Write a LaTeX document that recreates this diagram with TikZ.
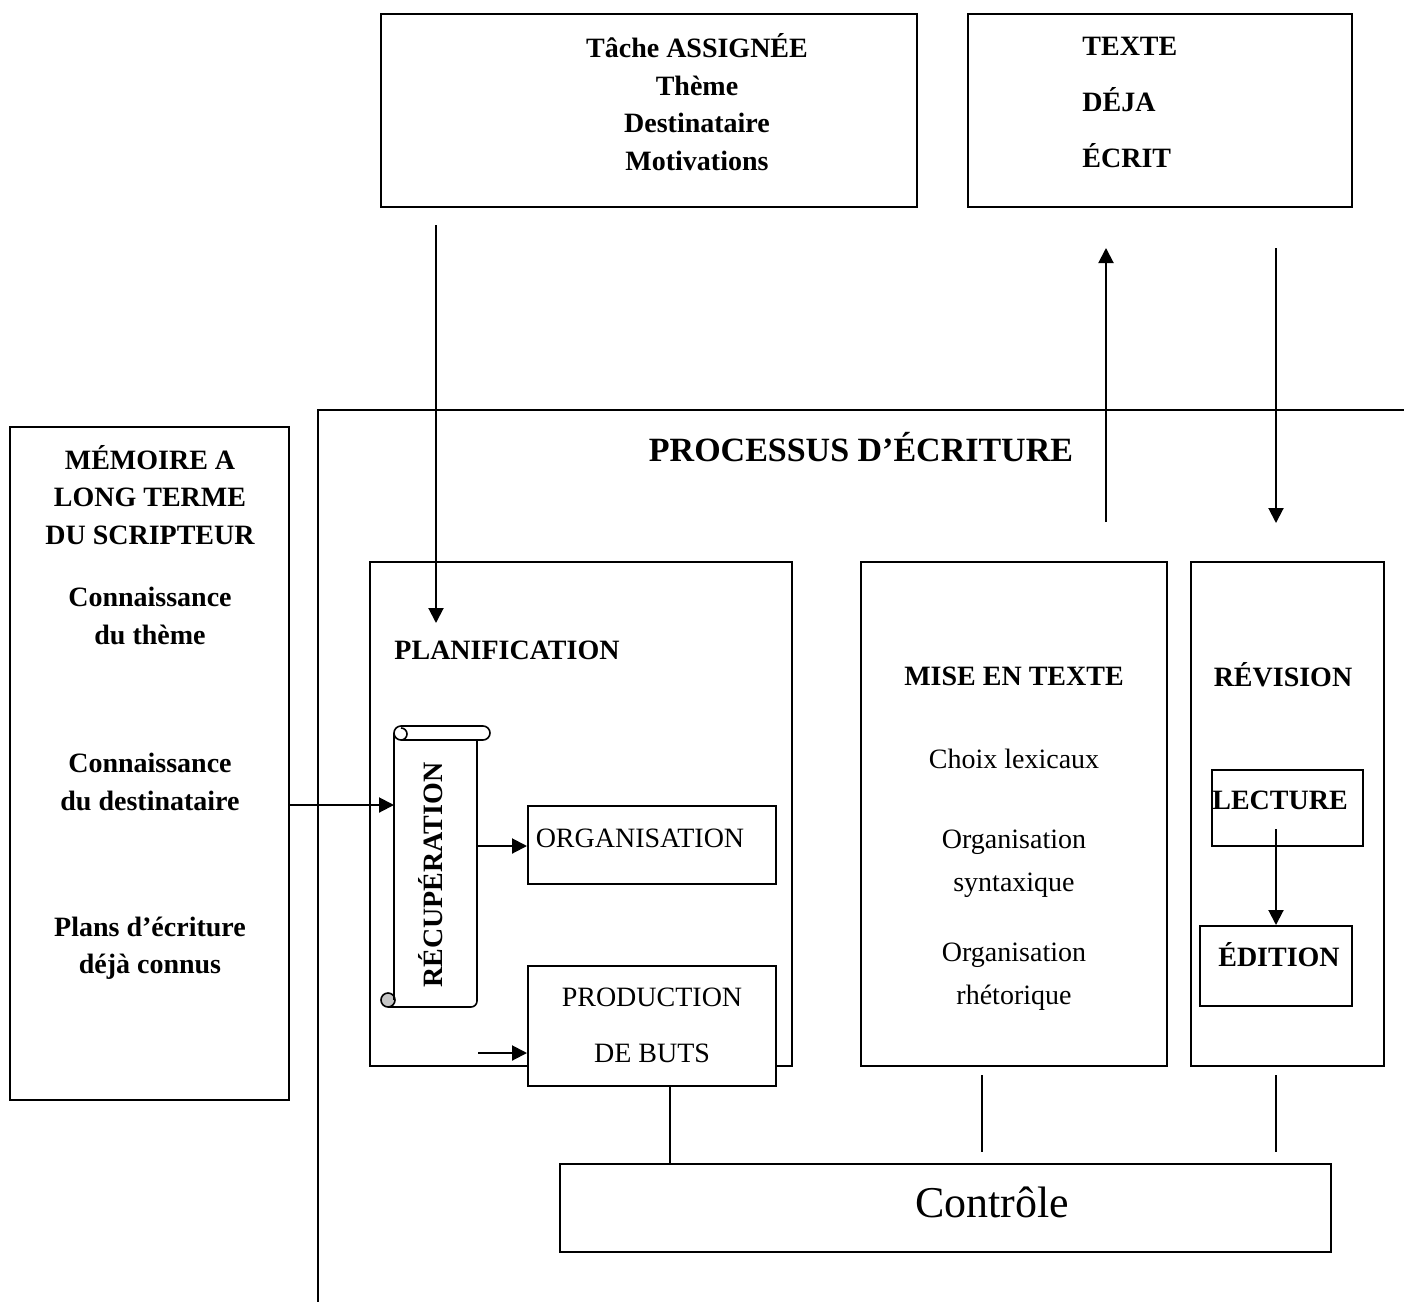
\documentclass[tikz,border=0pt]{standalone}
\usepackage{fontspec}
\setmainfont{Liberation Serif}
\usetikzlibrary{arrows.meta,fit}

\begin{document}
\begin{tikzpicture}[x=0.5pt,y=-0.5pt,
  boite/.style={draw,line width=1pt,inner sep=0pt},
  txt/.style={font=\fontsize{14}{18.75}\selectfont,align=center,inner sep=0pt},
  gras/.style={txt,font=\fontsize{14}{18.75}\selectfont\bfseries},
  fleche/.style={line width=1pt,-{Triangle[length=7.5pt,width=7.5pt]}},
  trait/.style={line width=0.9pt}]
  \useasboundingbox (0,0) rectangle (1404,1302);

  % Processus frame
  \draw[trait] (318,1302) -- (318,410) -- (1404,410);
  \node[gras,font=\fontsize{17}{20}\selectfont\bfseries] (titre) at (861,447) {PROCESSUS D’ÉCRITURE};

  % Tache assignee
  \node[boite,fit={(381,14)(917,207)}] (tache) {};
  \node[gras] (tacheTxt) at (697,102) {Tâche ASSIGNÉE\\Thème\\Destinataire\\Motivations};

  % Texte deja ecrit
  \node[boite,fit={(968,14)(1352,207)}] (texte) {};
  \node[gras,font=\fontsize{14}{28}\selectfont\bfseries,align=left,anchor=west] (texteTxt) at (1082,102) {TEXTE\\DÉJA\\ÉCRIT};

  % Memoire a long terme
  \node[boite,fit={(10,427)(289,1100)}] (memoire) {};
  \node[gras] (memTitre) at (150,495) {MÉMOIRE A\\LONG TERME\\DU SCRIPTEUR};
  \node[gras] (memTheme) at (150,616) {Connaissance\\du thème};
  \node[gras] (memDest) at (150,782) {Connaissance\\du destinataire};
  \node[gras] (memPlans) at (150,948) {Plans d’écriture\\déjà connus};

  % Planification
  \node[boite,fit={(370,562)(792,1066)}] (planif) {};
  \node[gras] (planifTxt) at (507,650) {PLANIFICATION};

  % Recuperation (scroll)
  \draw[line width=0.8pt,fill=gray!45] (388,1000) circle (3.5pt);
  \draw[line width=0.8pt,rounded corners=3pt] (388,1007) -- (477,1007) -- (477,740);
  \draw[line width=0.8pt] (394,1000) -- (394,733);
  \draw[line width=0.8pt,rounded corners=3.5pt,fill=white] (394,726) rectangle (490,740);
  \draw[line width=0.8pt] (408,740) -- (401,740) arc (90:270:-3pt);
  \node[gras,rotate=90] (recup) at (431,875) {RÉCUPÉRATION};
  \coordinate (recupG) at (394,805);
  \coordinate (recupD) at (478,846);

  % Organisation et production de buts
  \node[boite,fit={(528,806)(776,884)}] (orga) {};
  \node[txt] (orgaTxt) at (640,838) {ORGANISATION};
  \node[boite,fill=white,fit={(528,966)(776,1086)}] (prod) {};
  \node[txt,font=\fontsize{14}{28}\selectfont] (prodTxt) at (652,1025) {PRODUCTION\\DE BUTS};
  \coordinate (butsG) at (478,1053);

  % Mise en texte
  \node[boite,fit={(861,562)(1167,1066)}] (mise) {};
  \node[gras] (miseTxt) at (1014,676) {MISE EN TEXTE};
  \node[txt] (choix) at (1014,759) {Choix lexicaux};
  \node[txt,font=\fontsize{14}{21.5}\selectfont] (syntax) at (1014,864) {Organisation\\syntaxique};
  \node[txt,font=\fontsize{14}{21.5}\selectfont] (rheto) at (1014,977) {Organisation\\rhétorique};

  % Revision
  \node[boite,fit={(1191,562)(1384,1066)}] (revision) {};
  \node[gras] (revTxt) at (1283,675) {RÉVISION};
  \node[boite,fit={(1212,770)(1363,846)}] (lecture) {};
  \node[gras] (lectTxt) at (1280,800) {LECTURE};
  \node[boite,fit={(1200,926)(1352,1006)}] (edition) {};
  \node[gras] (editTxt) at (1279,955) {ÉDITION};
  \coordinate (lectBas) at (1276,829);

  % Controle
  \node[boite,fit={(560,1164)(1331,1252)}] (controle) {};
  \node[txt,font=\fontsize{22}{26}\selectfont] (ctrlTxt) at (992,1202) {Contrôle};

  % Arrows
  \coordinate (tacheBas) at (436,225);
  \coordinate (planifHaut) at (436,623);
  \draw[fleche] (tacheBas) -- (planifHaut);
  \coordinate (ecritBas) at (1106,522);
  \coordinate (ecritHaut) at (1106,248);
  \draw[fleche] (ecritBas) -- (ecritHaut);
  \coordinate (relireHaut) at (1276,248);
  \coordinate (relireBas) at (1276,523);
  \draw[fleche] (relireHaut) -- (relireBas);
  \draw[fleche] (memoire.east |- recupG) -- (recupG);
  \draw[fleche] (recupD) -- (orga.west |- recupD);
  \draw[fleche] (butsG) -- (prod.west |- butsG);
  \draw[fleche] (lectBas) -- (edition.north -| lectBas);

  % Links to controle
  \draw[trait] ([xshift=9pt]prod.south) -- ([xshift=9pt]prod.south |- controle.north);
  \coordinate (miseC1) at (982,1075);
  \coordinate (miseC2) at (982,1152);
  \draw[trait] (miseC1) -- (miseC2);
  \coordinate (revC1) at (1276,1075);
  \coordinate (revC2) at (1276,1152);
  \draw[trait] (revC1) -- (revC2);
\end{tikzpicture}
\end{document}
